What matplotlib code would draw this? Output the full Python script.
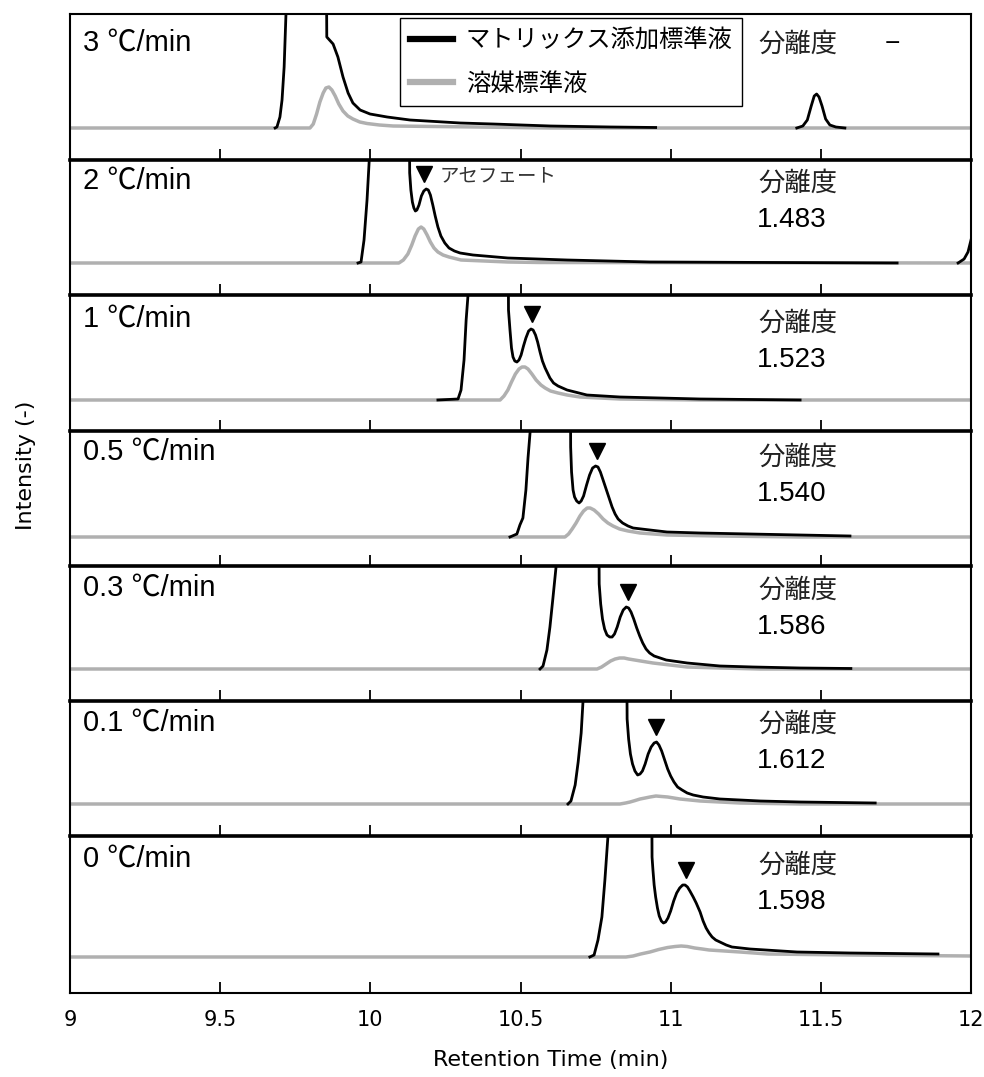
import numpy as np
import matplotlib.pyplot as plt
from matplotlib.lines import Line2D

plt.rcParams['font.family'] = ['DejaVu Sans', 'Noto Sans CJK JP']

nan = np.nan

rates = ["3 ℃/min", "2 ℃/min", "1 ℃/min", "0.5 ℃/min", "0.3 ℃/min", "0.1 ℃/min", "0 ℃/min"]
resolution = ["−", "1.483", "1.523", "1.540", "1.586", "1.612", "1.598"]
legend_labels = ["マトリックス添加標準液", "溶媒標準液"]
xticks = [9, 9.5, 10, 10.5, 11, 11.5, 12]

# acephate peak (retention time, apex intensity) per panel
acephate_rt = [nan, 10.18, 10.538, 10.755, 10.858, 10.951, 11.051]
acephate_top = [nan, 74, 71, 71, 62, 62, 72]

# --- 3 C/min ---  (m = matrix-matched std, s = solvent std); 300 = off scale
m3_t = [9.683, 9.689, 9.699, 9.706, 9.713, 9.719, 9.721, 9.851, 9.855, 9.864, 9.876, 9.892, 9.909, 9.926,
        9.942, 9.966, 9.999, 10.056, 10.132, 10.299, 10.408, 10.600, 10.800, 10.950, nan,
        11.420, 11.440, 11.455, 11.468, 11.478, 11.486, 11.494, 11.504, 11.516, 11.530, 11.550, 11.580]
m3_y = [0, 1, 11, 28, 61, 113, 300, 300, 91, 88, 84, 71, 51, 35,
        25, 18, 14, 11, 8, 5, 4, 2, 1, 0.5, nan,
        0, 2, 8, 22, 32, 34, 31, 22, 9, 3, 1, 0]
s3_t = [9.0, 9.799, 9.810, 9.821, 9.832, 9.843, 9.852, 9.862, 9.872, 9.883, 9.895, 9.909, 9.925,
        9.942, 9.965, 9.989, 10.03, 10.076, 10.355, 10.6, 12.0]
s3_y = [0, 0, 4, 14, 26, 35, 40, 41, 38, 32, 24, 17, 12, 9, 6, 4.5, 3, 2, 1, 0, 0]

# --- 2 C/min ---
m2_t = [9.959, 9.969, 9.979, 9.989, 9.996, 9.999, 10.128, 10.131, 10.135, 10.140, 10.145, 10.150,
        10.155, 10.162, 10.170, 10.178, 10.186, 10.193, 10.200, 10.208, 10.216, 10.225, 10.235,
        10.248, 10.262, 10.280, 10.299, 10.342, 10.458, 10.655, 10.931, 11.754, nan,
        11.957, 11.977, 11.990, 12.0]
m2_y = [0, 1, 23, 63, 101, 300, 300, 90, 73, 61, 55, 52,
        53, 58, 67, 72, 74, 73, 68, 58, 47, 36, 27,
        20, 15, 12, 10, 8, 5, 3, 1, 0, nan,
        0, 4, 11, 23]
s2_t = [9.0, 10.095, 10.110, 10.125, 10.138, 10.149, 10.160, 10.169, 10.178, 10.189, 10.200,
        10.212, 10.225, 10.242, 10.262, 10.302, 10.458, 10.565, 12.0]
s2_y = [0, 0, 3, 9, 18, 27, 34, 36, 34, 28, 21, 15, 11, 8, 6, 3, 1, 0.5, 0]

# --- 1 C/min ---
m1_t = [10.225, 10.292, 10.302, 10.312, 10.319, 10.325, 10.327, 10.457, 10.460, 10.465, 10.470,
        10.475, 10.481, 10.488, 10.495, 10.502, 10.510, 10.518, 10.527, 10.535, 10.542, 10.550,
        10.557, 10.565, 10.573, 10.582, 10.590, 10.598, 10.610, 10.625, 10.640, 10.655, 10.721,
        10.831, 11.098, 11.431]
m1_y = [0, 1, 10, 40, 80, 104, 300, 300, 90, 70, 52,
        43, 39, 38, 40, 45, 54, 62, 69, 71, 70, 65,
        58, 48, 39, 32, 27, 22, 17, 14, 12, 10, 5,
        3, 1, 0]
s1_t = [9.0, 10.432, 10.445, 10.458, 10.470, 10.483, 10.495, 10.505, 10.515, 10.525, 10.538,
        10.552, 10.568, 10.582, 10.600, 10.625, 10.655, 10.698, 10.831, 11.098, 12.0]
s1_y = [0, 0, 4, 10, 18, 26, 31, 33, 33, 31, 26, 20, 15, 12, 9, 7, 5, 3, 1, 0, 0]

# --- 0.5 C/min ---
m05_t = [10.465, 10.488, 10.498, 10.508, 10.518, 10.525, 10.532, 10.535, 10.665, 10.667, 10.670,
         10.675, 10.680, 10.687, 10.695, 10.702, 10.710, 10.720, 10.730, 10.740, 10.750, 10.758,
         10.766, 10.775, 10.785, 10.795, 10.805, 10.815, 10.825, 10.840, 10.858, 10.875,
         10.931, 10.988, 11.098, 11.264, 11.597]
m05_y = [0, 3, 12, 19, 47, 79, 105, 300, 300, 90, 65,
         47, 40, 36, 34, 36, 41, 52, 62, 69, 71, 70,
         65, 57, 48, 39, 30, 23, 18, 14, 11, 9,
         7, 5, 4, 3, 1]
s05_t = [9.0, 10.648, 10.660, 10.672, 10.685, 10.698, 10.710, 10.722, 10.732, 10.745, 10.760,
         10.775, 10.791, 10.808, 10.830, 10.858, 10.898, 10.988, 11.164, 11.431, 12.0]
s05_y = [0, 0, 3, 8, 14, 21, 26, 29, 29, 27, 23, 18, 14, 11, 8, 6, 4, 2, 1, 0, 0]

# --- 0.3 C/min ---
m03_t = [10.565, 10.575, 10.588, 10.598, 10.608, 10.618, 10.620, 10.758, 10.762, 10.767, 10.773,
         10.780, 10.788, 10.797, 10.805, 10.813, 10.822, 10.832, 10.842, 10.852, 10.860, 10.868,
         10.877, 10.887, 10.897, 10.907, 10.918, 10.930, 10.945, 10.965, 10.985, 11.008,
         11.055, 11.164, 11.274, 11.431, 11.6]
m03_y = [0, 3, 19, 42, 71, 101, 300, 300, 85, 65, 50,
         40, 34, 32, 32, 35, 42, 52, 59, 62, 61, 57,
         50, 41, 33, 26, 20, 16, 13, 11, 9, 8,
         6, 3, 2, 1, 0.5]
s03_t = [9.0, 10.755, 10.770, 10.785, 10.800, 10.815, 10.830, 10.845, 10.860, 10.880, 10.900,
         10.941, 10.998, 11.055, 11.164, 11.298, 12.0]
s03_y = [0, 0, 2, 5, 8, 10, 11, 11, 10, 9, 8, 6, 4, 2, 1, 0, 0]

# --- 0.1 C/min ---
m01_t = [10.658, 10.668, 10.682, 10.692, 10.702, 10.708, 10.710, 10.851, 10.855, 10.860, 10.866,
         10.873, 10.881, 10.890, 10.898, 10.906, 10.915, 10.925, 10.935, 10.945, 10.953, 10.961,
         10.970, 10.980, 10.990, 11.000, 11.011, 11.023, 11.038, 11.055, 11.075, 11.108,
         11.164, 11.298, 11.431, 11.681]
m01_y = [0, 3, 19, 42, 71, 102, 300, 300, 85, 65, 50,
         40, 33, 29, 30, 33, 40, 50, 57, 61, 62, 59,
         53, 44, 35, 28, 22, 17, 14, 11, 9, 7,
         5, 3, 2, 1]
s01_t = [9.0, 10.831, 10.850, 10.865, 10.882, 10.898, 10.915, 10.931, 10.951, 10.970, 10.990,
         11.031, 11.098, 11.231, 11.431, 12.0]
s01_y = [0, 0, 1, 2, 3.5, 5, 6, 7, 8, 7.5, 7, 5, 3, 1, 0, 0]

# --- 0 C/min ---
m0_t = [10.731, 10.745, 10.758, 10.771, 10.781, 10.791, 10.795, 10.935, 10.938, 10.941, 10.945,
        10.950, 10.956, 10.962, 10.969, 10.976, 10.983, 10.991, 11.000, 11.010, 11.020, 11.030,
        11.040, 11.048, 11.056, 11.064, 11.075, 11.085, 11.098, 11.108, 11.118, 11.128, 11.138,
        11.150, 11.164, 11.185, 11.204, 11.264, 11.421, 11.597, 11.890]
m0_y = [0, 2, 17, 40, 77, 120, 300, 300, 100, 87, 72,
        60, 49, 41, 36, 34, 35, 39, 46, 56, 64, 69,
        72, 72, 70, 66, 60, 54, 45, 36, 29, 24, 20,
        17, 15, 12, 10, 8, 5, 4, 3]
s0_t = [9.0, 10.851, 10.875, 10.900, 10.931, 10.960, 10.990, 11.015, 11.035, 11.055, 11.080,
        11.105, 11.128, 11.231, 11.324, 11.597, 12.0]
s0_y = [0, 0, 1, 3, 5, 7.5, 9.5, 10.5, 11, 10.5, 9, 8, 7, 5, 3, 2, 1]

matrix = [(m3_t, m3_y), (m2_t, m2_y), (m1_t, m1_y), (m05_t, m05_y),
          (m03_t, m03_y), (m01_t, m01_y), (m0_t, m0_y)]
solvent = [(s3_t, s3_y), (s2_t, s2_y), (s1_t, s1_y), (s05_t, s05_y),
           (s03_t, s03_y), (s01_t, s01_y), (s0_t, s0_y)]

# layout: panel top / bottom / baseline in pixels
W, H = 984, 1077
panel_px = [(14, 160, 128), (160, 295, 263), (295, 431, 400), (431, 566, 537),
            (566, 701, 669), (701, 836, 804), (836, 993, 957)]
label_dy = [29, 21, 24, 21, 22, 22, 23]
res_dy = [30, 23, 28, 26, 24, 23, 29]

latin = ['Liberation Sans', 'Noto Sans CJK JP']
cjk = ['Noto Sans CJK JP', 'DejaVu Sans']
gray = '#b0b0b0'

fig = plt.figure(figsize=(W / 100, H / 100), dpi=100)

for k in range(7):
    top, bot, base = panel_px[k]
    ax = fig.add_axes([70 / W, 1 - bot / H, 901 / W, (bot - top) / H])
    ax.plot(*solvent[k], color=gray, lw=2.5, solid_joinstyle='round')
    ax.plot(*matrix[k], color='black', lw=2.0, solid_joinstyle='round')
    ax.set_xlim(9, 12)
    ax.set_ylim(-(bot - base), base - top)
    ax.set_yticks([])
    ax.set_xticks(xticks)
    ax.set_xticklabels([f"{v:g}" for v in xticks])
    ax.tick_params(axis='x', direction='in', length=8, width=1.3,
                   labelbottom=(k == 6), labelsize=15, pad=12)
    for side in ['left', 'right', 'bottom', 'top']:
        ax.spines[side].set_linewidth(1.5)
    if k > 0:
        ax.spines['top'].set_linewidth(2.6)

    ax.annotate(rates[k], xy=(0, 1), xycoords='axes fraction',
                xytext=(13, -label_dy[k]), textcoords='offset pixels',
                va='center', ha='left', fontsize=21, family=latin)
    ax.annotate("分離度", xy=(0, 1), xycoords='axes fraction',
                xytext=(688, -res_dy[k]), textcoords='offset pixels',
                va='center', ha='left', fontsize=19, family=cjk, color='#222222')
    if k == 0:
        ax.annotate(resolution[k], xy=(0, 1), xycoords='axes fraction',
                    xytext=(815, -res_dy[k]), textcoords='offset pixels',
                    va='center', ha='left', fontsize=19, family=latin)
    else:
        ax.annotate(resolution[k], xy=(0, 1), xycoords='axes fraction',
                    xytext=(687, -res_dy[k] - 37), textcoords='offset pixels',
                    va='center', ha='left', fontsize=20, family=latin)
        ax.plot(acephate_rt[k], acephate_top[k] + 15, marker='v', ms=11,
                color='black', ls='none')
    if k == 1:
        ax.annotate("アセフェート", xy=(0, 1), xycoords='axes fraction',
                    xytext=(370, -16), textcoords='offset pixels',
                    va='center', ha='left', fontsize=14, family=cjk, color='#333333')

handles = [Line2D([], [], color='black', lw=4.5), Line2D([], [], color=gray, lw=4.5)]
fig.legend(handles, legend_labels, loc='upper left',
           bbox_to_anchor=(400 / W, 1 - 18 / H), frameon=True, fancybox=False,
           edgecolor='black', framealpha=1, prop={'family': cjk, 'size': 17.5},
           handlelength=1.8, handletextpad=0.5, labelspacing=0.7, borderpad=0.4,
           borderaxespad=0)

fig.text(551 / W, 1 - 1060 / H, "Retention Time (min)", ha='center', va='center',
         fontsize=16, family=['DejaVu Sans'])
fig.text(26 / W, 1 - 465 / H, "Intensity (-)", ha='center', va='center',
         rotation=90, fontsize=16, family=['DejaVu Sans'])

fig.savefig("out.png", dpi=100)
